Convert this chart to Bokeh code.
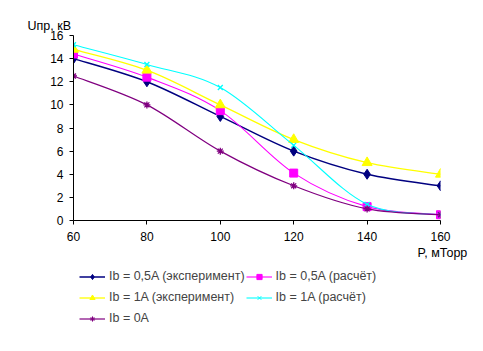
from bokeh.plotting import figure
from bokeh.layouts import column
from bokeh.models import Legend, LegendItem, FixedTicker, Range1d, Title
from bokeh.embed import file_html
from bokeh.resources import INLINE

P = [60, 80, 100, 120, 140, 160]
u_05_exp = [14.0, 12.0, 9.0, 6.0, 4.0, 3.0]
u_05_calc = [14.4, 12.4, 9.5, 4.1, 1.2, 0.5]
u_1_exp = [14.8, 13.0, 10.0, 7.0, 5.0, 4.0]
u_1_calc = [15.2, 13.5, 11.5, 6.5, 1.4, 0.5]
u_0 = [12.5, 10.0, 6.0, 3.0, 1.0, 0.5]

labels = ["Ib = 0,5A (эксперимент)", "Ib = 0,5A (расчёт)",
          "Ib = 1A (эксперимент)", "Ib = 1A (расчёт)", "Ib = 0A"]
series = [u_05_exp, u_05_calc, u_1_exp, u_1_calc, u_0]
colors = ["#000080", "#FF00FF", "#FFFF00", "#00FFFF", "#800080"]
markers = ["diamond", "square", "triangle", "x", "asterisk"]
sizes = [10, 8, 10, 7, 7]
widths = [1.5, 1.1, 1.3, 1.1, 1.2]

x_ticks = [60, 80, 100, 120, 140, 160]
y_ticks = [0, 2, 4, 6, 8, 10, 12, 14, 16]

FONT = "Liberation Sans"

p = figure(frame_width=367, frame_height=185, output_backend="svg",
           toolbar_location=None,
           x_range=Range1d(60, 160), y_range=Range1d(0, 16),
           min_border_left=73, min_border_right=43, min_border_top=35,
           min_border_bottom=45)
p.outline_line_color = None
p.grid.visible = False
p.background_fill_color = "white"
p.border_fill_color = "white"

for ax, ticks in ((p.xaxis[0], x_ticks), (p.yaxis[0], y_ticks)):
    ax.ticker = FixedTicker(ticks=ticks)
    ax.major_label_text_font = FONT
    ax.major_label_text_font_size = "12px"
    ax.major_label_text_color = "black"
    ax.axis_line_color = "black"
    ax.major_tick_line_color = "black"
    ax.major_tick_out = 4
    ax.major_tick_in = 0
    ax.minor_tick_line_color = None
p.yaxis[0].major_label_standoff = 6
p.xaxis[0].major_label_standoff = 7


def smooth(xs, ys):
    n = len(xs)
    x0, y0, x1, y1, cx0, cy0, cx1, cy1 = [], [], [], [], [], [], [], []
    for i in range(n - 1):
        pm = i - 1 if i > 0 else i
        pp = i + 2 if i + 2 < n else i + 1
        x0.append(xs[i]); y0.append(ys[i])
        x1.append(xs[i + 1]); y1.append(ys[i + 1])
        cx0.append(xs[i] + (xs[i + 1] - xs[pm]) / 6)
        cy0.append(ys[i] + (ys[i + 1] - ys[pm]) / 6)
        cx1.append(xs[i + 1] - (xs[pp] - xs[i]) / 6)
        cy1.append(ys[i + 1] - (ys[pp] - ys[i]) / 6)
    return x0, y0, x1, y1, cx0, cy0, cx1, cy1


# legend-only figure below the chart
pl = figure(width=483, height=86, output_backend="svg", toolbar_location=None,
            x_range=Range1d(0, 1), y_range=Range1d(0, 1),
            min_border=0)
pl.axis.visible = False
pl.grid.visible = False
pl.outline_line_color = None
pl.background_fill_color = "white"
pl.border_fill_color = "white"

items = []
for lab, ys, c, m, s, w in zip(labels, series, colors, markers, sizes, widths):
    x0, y0, x1, y1, cx0, cy0, cx1, cy1 = smooth(P, ys)
    p.bezier(x0=x0, y0=y0, x1=x1, y1=y1, cx0=cx0, cy0=cy0, cx1=cx1, cy1=cy1,
             line_color=c, line_width=w)
    lw = 1.3 if m in ("x", "asterisk") else 1
    p.scatter(P, ys, marker=m, size=s, fill_color=c, line_color=c, line_width=lw)
    lr = pl.line(P, ys, line_color=c, line_width=w, visible=False)
    sr = pl.scatter(P, ys, marker=m, size=s, fill_color=c, line_color=c,
                    line_width=1, visible=False)
    items.append(LegendItem(label=lab, renderers=[lr, sr]))

ytitle = Title(text="Uпр, кВ", align="left", offset=-46, standoff=6,
               text_font=FONT, text_font_size="12.5px", text_font_style="normal",
               text_color="black")
p.add_layout(ytitle, "above")

xtitle = Title(text="P, мТорр", align="left", offset=344, standoff=0,
               text_font=FONT, text_font_size="12.5px", text_font_style="normal",
               text_color="black")
p.add_layout(xtitle, "below")

legend = Legend(items=items, orientation="horizontal", ncols=2,
                location=(6, 23), padding=0, margin=0, spacing=1,
                label_standoff=4, glyph_width=26, glyph_height=13,
                label_height=20, label_text_font=FONT,
                label_text_font_size="12.5px", border_line_color=None,
                background_fill_alpha=0)
pl.add_layout(legend, "center")

layout = column(p, pl, spacing=0)
open("out.html", "w").write(file_html(layout, INLINE))
